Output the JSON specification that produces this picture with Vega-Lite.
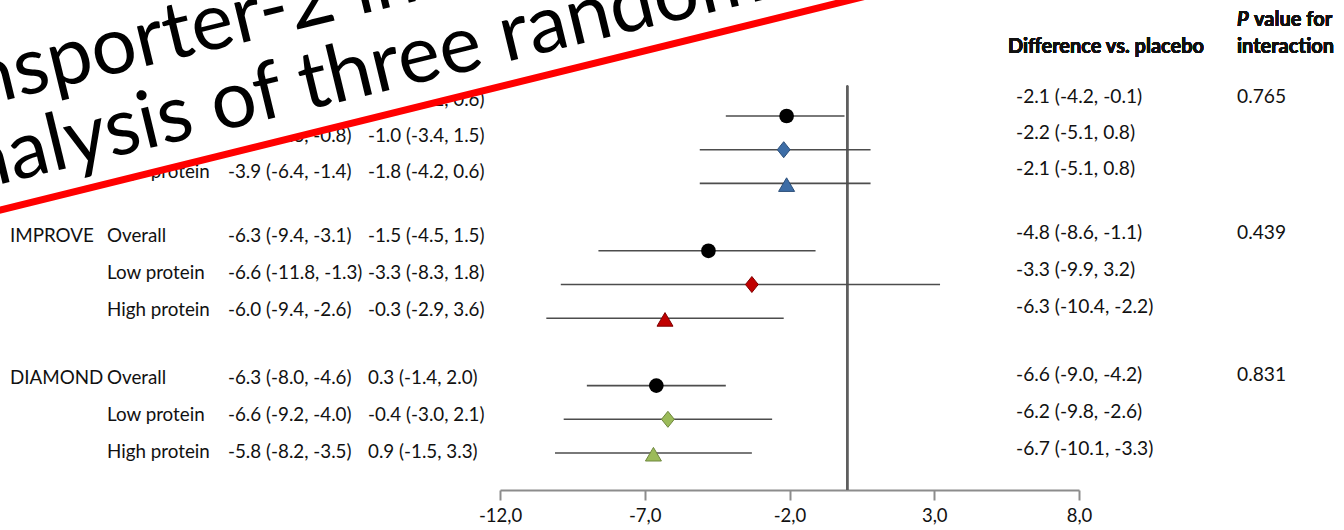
{
  "$schema": "https://vega.github.io/schema/vega-lite/v6.json",
  "width": 1344,
  "height": 490,
  "autosize": "none",
  "padding": {"left": 0, "top": 0, "right": 0, "bottom": 40},
  "background": "white",
  "config": {"view": {"stroke": null}, "text": {"font": "Lato", "color": "#111111"}},
  "datasets": {
    "rows": [
      {"row": 0, "group": "g1", "sub": "Overall", "label": "", "dapa": "-3.4 (-5.3, -1.6)", "plc": "-1.3 (-3.2, 0.6)", "diff": "-2.1 (-4.2, -0.1)", "p": "0.765", "est": -2.1, "lo": -4.2, "hi": -0.1},
      {"row": 1, "group": "g1", "sub": "Low protein", "label": "", "dapa": "-3.2 (-5.6, -0.8)", "plc": "-1.0 (-3.4, 1.5)", "diff": "-2.2 (-5.1, 0.8)", "p": "", "est": -2.2, "lo": -5.1, "hi": 0.8},
      {"row": 2, "group": "g1", "sub": "High protein", "label": "", "dapa": "-3.9 (-6.4, -1.4)", "plc": "-1.8 (-4.2, 0.6)", "diff": "-2.1 (-5.1, 0.8)", "p": "", "est": -2.1, "lo": -5.1, "hi": 0.8},
      {"row": 4, "group": "IMPROVE", "sub": "Overall", "label": "IMPROVE", "dapa": "-6.3 (-9.4, -3.1)", "plc": "-1.5 (-4.5, 1.5)", "diff": "-4.8 (-8.6, -1.1)", "p": "0.439", "est": -4.8, "lo": -8.6, "hi": -1.1},
      {"row": 5, "group": "IMPROVE", "sub": "Low protein", "label": "", "dapa": "-6.6 (-11.8, -1.3)", "plc": "-3.3 (-8.3, 1.8)", "diff": "-3.3 (-9.9, 3.2)", "p": "", "est": -3.3, "lo": -9.9, "hi": 3.2},
      {"row": 6, "group": "IMPROVE", "sub": "High protein", "label": "", "dapa": "-6.0 (-9.4, -2.6)", "plc": "-0.3 (-2.9, 3.6)", "diff": "-6.3 (-10.4, -2.2)", "p": "", "est": -6.3, "lo": -10.4, "hi": -2.2},
      {"row": 8, "group": "DIAMOND", "sub": "Overall", "label": "DIAMOND", "dapa": "-6.3 (-8.0, -4.6)", "plc": "0.3 (-1.4, 2.0)", "diff": "-6.6 (-9.0, -4.2)", "p": "0.831", "est": -6.6, "lo": -9.0, "hi": -4.2},
      {"row": 9, "group": "DIAMOND", "sub": "Low protein", "label": "", "dapa": "-6.6 (-9.2, -4.0)", "plc": "-0.4 (-3.0, 2.1)", "diff": "-6.2 (-9.8, -2.6)", "p": "", "est": -6.2, "lo": -9.8, "hi": -2.6},
      {"row": 10, "group": "DIAMOND", "sub": "High protein", "label": "", "dapa": "-5.8 (-8.2, -3.5)", "plc": "0.9 (-1.5, 3.3)", "diff": "-6.7 (-10.1, -3.3)", "p": "", "est": -6.7, "lo": -10.1, "hi": -3.3}
    ],
    "bannerEdge": [
      {"bx": -29.62, "by": 2.864},
      {"bx": 0.78, "by": -3.587}
    ],
    "bannerText": [
      {"t": "co-transporter-2 inhibition", "bx": -37.12, "by": 1.20},
      {"t": "analysis of three randomized trials", "bx": -31.60, "by": 2.51}
    ]
  },
  "resolve": {"scale": {"x": "independent", "y": "independent"}, "axis": {"x": "independent", "y": "independent"}},
  "layer": [
    {
      "data": {"name": "rows"},
      "layer": [
        {
          "transform": [{"filter": "datum.label != ''"}],
          "mark": {"type": "text", "align": "left", "baseline": "middle", "fontSize": 18.8},
          "encoding": {
            "x": {"datum": 0, "type": "quantitative", "axis": null, "scale": {"domain": [0, 1, 2, 3, 4, 5], "range": [10, 107, 228, 368, 1016, 1237], "nice": false, "zero": false}},
            "y": {"field": "row", "type": "quantitative", "axis": null, "scale": {"domain": [0, 2, 4, 6, 8, 10], "range": [100, 172, 236, 310, 378, 452], "nice": false, "zero": false}},
            "text": {"field": "label"}
          }
        },
        {
          "mark": {"type": "text", "align": "left", "baseline": "middle", "fontSize": 18.8},
          "encoding": {
            "x": {"datum": 1, "type": "quantitative"},
            "y": {"field": "row", "type": "quantitative"},
            "text": {"field": "sub"}
          }
        },
        {
          "mark": {"type": "text", "align": "left", "baseline": "middle", "fontSize": 18.8},
          "encoding": {
            "x": {"datum": 2, "type": "quantitative"},
            "y": {"field": "row", "type": "quantitative"},
            "text": {"field": "dapa"}
          }
        },
        {
          "mark": {"type": "text", "align": "left", "baseline": "middle", "fontSize": 18.8},
          "encoding": {
            "x": {"datum": 3, "type": "quantitative"},
            "y": {"field": "row", "type": "quantitative"},
            "text": {"field": "plc"}
          }
        },
        {
          "mark": {"type": "text", "align": "left", "baseline": "middle", "fontSize": 19.2, "dy": -3},
          "encoding": {
            "x": {"datum": 4, "type": "quantitative"},
            "y": {"field": "row", "type": "quantitative"},
            "text": {"field": "diff"}
          }
        },
        {
          "transform": [{"filter": "datum.p != ''"}],
          "mark": {"type": "text", "align": "left", "baseline": "middle", "fontSize": 19.2, "dy": -3},
          "encoding": {
            "x": {"datum": 5, "type": "quantitative"},
            "y": {"field": "row", "type": "quantitative"},
            "text": {"field": "p"}
          }
        },
        {
          "mark": {"type": "text", "align": "left", "baseline": "middle", "fontSize": 20, "fontWeight": "bold", "dx": -8, "text": "Difference vs. placebo"},
          "encoding": {
            "x": {"datum": 4, "type": "quantitative"},
            "y": {"datum": -1.47, "type": "quantitative"}
          }
        },
        {
          "mark": {"type": "text", "align": "left", "baseline": "middle", "fontSize": 20, "fontWeight": "bold", "text": "interaction"},
          "encoding": {
            "x": {"datum": 5, "type": "quantitative"},
            "y": {"datum": -1.47, "type": "quantitative"}
          }
        },
        {
          "mark": {"type": "text", "align": "left", "baseline": "middle", "fontSize": 20, "fontWeight": "bold", "fontStyle": "italic", "text": "P"},
          "encoding": {
            "x": {"datum": 5, "type": "quantitative"},
            "y": {"datum": -2.22, "type": "quantitative"}
          }
        },
        {
          "mark": {"type": "text", "align": "left", "baseline": "middle", "fontSize": 20, "fontWeight": "bold", "dx": 17, "text": "value for"},
          "encoding": {
            "x": {"datum": 5, "type": "quantitative"},
            "y": {"datum": -2.22, "type": "quantitative"}
          }
        }
      ]
    },
    {
      "layer": [
        {
          "data": {"name": "rows"},
          "mark": {"type": "rule", "color": "#5e5e5e", "strokeWidth": 1.5},
          "encoding": {
            "x": {"datum": 0, "type": "quantitative", "scale": {"domain": [-12, 8], "range": [500, 1079], "nice": false, "zero": false},
              "axis": {"orient": "bottom", "values": [-12, -7, -2, 3, 8], "labelExpr": "datum.value + ',0'", "title": null, "grid": false, "domainColor": "#8c8c8c", "domainWidth": 2, "tickColor": "#8c8c8c", "tickWidth": 2, "tickSize": 10, "labelFont": "Lato", "labelFontSize": 18.5, "labelColor": "#111111", "labelPadding": 6, "labelFlush": false}},
            "y": {"datum": -0.9, "type": "quantitative", "axis": null, "scale": {"domain": [0, 10], "range": [116, 453], "nice": false, "zero": false}},
            "y2": {"value": "height"}
          }
        },
        {
          "data": {"name": "rows"},
          "mark": {"type": "rule", "color": "#4d4d4d", "strokeWidth": 1.6},
          "encoding": {
            "x": {"field": "lo", "type": "quantitative"},
            "x2": {"field": "hi"},
            "y": {"field": "row", "type": "quantitative"}
          }
        },
        {
          "data": {"name": "rows"},
          "transform": [{"filter": "datum.sub == 'Overall'"}],
          "mark": {"type": "point", "shape": "circle", "filled": true, "size": 215, "color": "#000000", "opacity": 1},
          "encoding": {
            "x": {"field": "est", "type": "quantitative"},
            "y": {"field": "row", "type": "quantitative"}
          }
        },
        {
          "data": {"name": "rows"},
          "transform": [{"filter": "datum.sub != 'Overall'"}],
          "mark": {"type": "point", "filled": true, "size": 256, "strokeWidth": 1, "opacity": 1},
          "encoding": {
            "x": {"field": "est", "type": "quantitative"},
            "y": {"field": "row", "type": "quantitative"},
            "shape": {"field": "sub", "type": "nominal", "legend": null, "scale": {"domain": ["Low protein", "High protein"], "range": ["M-0.8,0L0,-1L0.8,0L0,1Z", "M0,-0.7L1,1L-1,1Z"]}},
            "fill": {"field": "group", "type": "nominal", "legend": null, "scale": {"domain": ["g1", "IMPROVE", "DIAMOND"], "range": ["#3D6DA6", "#C00000", "#9BBB59"]}},
            "stroke": {"field": "group", "type": "nominal", "legend": null, "scale": {"domain": ["g1", "IMPROVE", "DIAMOND"], "range": ["#2B4E78", "#7F0000", "#6F873E"]}}
          }
        },
        {
          "data": {"name": "bannerEdge"},
          "mark": {"type": "area", "color": "#FFFFFF", "opacity": 1},
          "encoding": {
            "x": {"field": "bx", "type": "quantitative"},
            "y": {"field": "by", "type": "quantitative"},
            "y2": {"datum": -4}
          }
        },
        {
          "data": {"name": "bannerEdge"},
          "mark": {"type": "line", "color": "#FF0000", "strokeWidth": 7},
          "encoding": {
            "x": {"field": "bx", "type": "quantitative"},
            "y": {"field": "by", "type": "quantitative"}
          }
        },
        {
          "data": {"name": "bannerText"},
          "mark": {"type": "text", "align": "left", "baseline": "alphabetic", "fontSize": 80, "angle": 346.4, "font": "Lato", "color": "#000000"},
          "encoding": {
            "x": {"field": "bx", "type": "quantitative"},
            "y": {"field": "by", "type": "quantitative"},
            "text": {"field": "t"}
          }
        }
      ]
    }
  ]
}
